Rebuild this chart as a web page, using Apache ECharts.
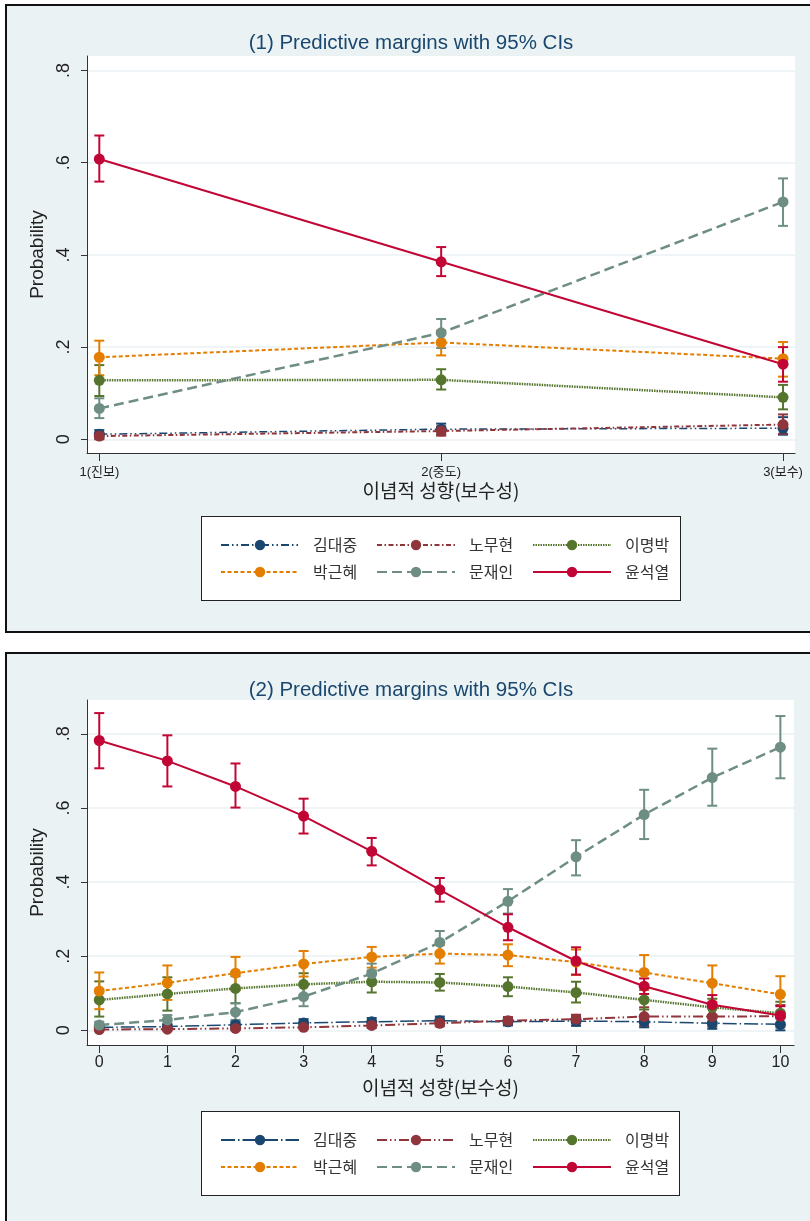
<!DOCTYPE html>
<html>
<head>
<meta charset="utf-8">
<script src="https://cdn.jsdelivr.net/npm/echarts@6/dist/echarts.min.js"></script>
<style>
  body { margin: 0; background: #fff; }
  #wrap { position: relative; width: 810px; height: 1221px; overflow: hidden; }
  .frame { position: absolute; background: #eaf2f3; border: 2px solid #111; box-sizing: border-box; }
  .lgbox { position: absolute; background: #fff; border: 1px solid #222; box-sizing: border-box; }
  #chart { position: absolute; left: 0; top: 0; width: 810px; height: 1221px; }
</style>
</head>
<body>
<div id="wrap">
  <div class="frame" style="left:5px;top:4px;width:830px;height:629px"></div>
  <div class="frame" style="left:5px;top:652px;width:830px;height:600px"></div>
  <div class="lgbox" style="left:201px;top:516px;width:480px;height:85px"></div>
  <div class="lgbox" style="left:201px;top:1111px;width:479px;height:85px"></div>
  <div id="chart"></div>
</div>
<script>
// candidates and colours
const candidates = ['김대중', '노무현', '이명박', '박근혜', '문재인', '윤석열'];
const colors = ['#1a476f', '#90353b', '#55752f', '#e37e00', '#6e8e84', '#c10534'];

const yTicks = [0, 0.2, 0.4, 0.6, 0.8];
const yTickLabels = ['0', '.2', '.4', '.6', '.8'];

// (1) three-category ideology
const xTop = [1, 2, 3];
const xTopLabels = ['1(진보)', '2(중도)', '3(보수)'];
const topKdj = [0.011, 0.022, 0.024];
const topKdjLo = [0.002, 0.010, 0.010];
const topKdjHi = [0.020, 0.034, 0.048];
const topNmh = [0.007, 0.018, 0.032];
const topNmhLo = [0.000, 0.008, 0.012];
const topNmhHi = [0.014, 0.028, 0.054];
const topLmb = [0.128, 0.129, 0.091];
const topLmbLo = [0.094, 0.108, 0.065];
const topLmbHi = [0.161, 0.152, 0.118];
const topPgh = [0.178, 0.210, 0.175];
const topPghLo = [0.139, 0.182, 0.136];
const topPghHi = [0.214, 0.236, 0.211];
const topMji = [0.067, 0.231, 0.515];
const topMjiLo = [0.046, 0.198, 0.463];
const topMjiHi = [0.089, 0.261, 0.566];
const topYsy = [0.608, 0.385, 0.163];
const topYsyLo = [0.559, 0.354, 0.125];
const topYsyHi = [0.659, 0.417, 0.200];

// (2) 0-10 ideology scale
const xBottom = [0, 1, 2, 3, 4, 5, 6, 7, 8, 9, 10];
const botKdj = [0.008, 0.010, 0.015, 0.020, 0.023, 0.026, 0.023, 0.025, 0.023, 0.019, 0.016];
const botKdjLo = [0.002, 0.003, 0.006, 0.010, 0.013, 0.015, 0.013, 0.012, 0.008, 0.004, 0.000];
const botKdjHi = [0.014, 0.017, 0.024, 0.030, 0.033, 0.037, 0.033, 0.038, 0.038, 0.034, 0.032];
const botNmh = [0.002, 0.003, 0.005, 0.008, 0.013, 0.019, 0.026, 0.030, 0.037, 0.037, 0.038];
const botNmhLo = [0.000, 0.000, 0.001, 0.003, 0.006, 0.011, 0.016, 0.018, 0.012, 0.010, 0.008];
const botNmhHi = [0.005, 0.007, 0.010, 0.014, 0.020, 0.027, 0.036, 0.042, 0.062, 0.064, 0.068];
const botLmb = [0.082, 0.098, 0.113, 0.124, 0.131, 0.129, 0.118, 0.102, 0.082, 0.062, 0.046];
const botLmbLo = [0.037, 0.053, 0.073, 0.095, 0.102, 0.107, 0.092, 0.075, 0.056, 0.040, 0.016];
const botLmbHi = [0.132, 0.143, 0.146, 0.154, 0.161, 0.152, 0.143, 0.131, 0.109, 0.085, 0.077];
const botPgh = [0.106, 0.128, 0.154, 0.179, 0.198, 0.207, 0.203, 0.184, 0.156, 0.127, 0.097];
const botPghLo = [0.057, 0.082, 0.109, 0.145, 0.169, 0.180, 0.173, 0.150, 0.110, 0.077, 0.047];
const botPghHi = [0.156, 0.175, 0.198, 0.214, 0.225, 0.230, 0.232, 0.218, 0.203, 0.175, 0.146];
const botMji = [0.014, 0.028, 0.049, 0.091, 0.153, 0.237, 0.348, 0.468, 0.582, 0.682, 0.764];
const botMjiLo = [0.005, 0.015, 0.028, 0.065, 0.124, 0.206, 0.315, 0.418, 0.516, 0.606, 0.680];
const botMjiHi = [0.023, 0.041, 0.073, 0.119, 0.180, 0.268, 0.381, 0.513, 0.649, 0.760, 0.848];
const botYsy = [0.782, 0.727, 0.658, 0.578, 0.483, 0.379, 0.278, 0.187, 0.119, 0.069, 0.040];
const botYsyLo = [0.707, 0.658, 0.601, 0.531, 0.445, 0.347, 0.243, 0.150, 0.098, 0.041, 0.014];
const botYsyHi = [0.856, 0.796, 0.720, 0.625, 0.519, 0.411, 0.313, 0.224, 0.140, 0.095, 0.065];

const FONT = "'Liberation Sans', 'Noto Sans CJK KR', sans-serif";
const KFONT = "'Noto Sans CJK KR', 'Liberation Sans', sans-serif";

// line patterns per panel
const topDash = [[8, 3, 1.5, 3, 1.5, 3], [5, 2.5, 1.5, 2.5], [1.5, 1], [4, 2.5], [10, 5], 'solid'];
const botDash = [[14, 3, 1.5, 3], [10, 3, 1.5, 3, 1.5, 3], [1.5, 1], [4, 2.5], [10, 5], 'solid'];
const widths = [1.5, 2, 2.5, 2, 2.5, 2];

const panels = [
  { x: xTop, dash: topDash, suffix: '',
    vals: [topKdj, topNmh, topLmb, topPgh, topMji, topYsy],
    lo: [topKdjLo, topNmhLo, topLmbLo, topPghLo, topMjiLo, topYsyLo],
    hi: [topKdjHi, topNmhHi, topLmbHi, topPghHi, topMjiHi, topYsyHi] },
  { x: xBottom, dash: botDash, suffix: '#2',
    vals: [botKdj, botNmh, botLmb, botPgh, botMji, botYsy],
    lo: [botKdjLo, botNmhLo, botLmbLo, botPghLo, botMjiLo, botYsyLo],
    hi: [botKdjHi, botNmhHi, botLmbHi, botPghHi, botMjiHi, botYsyHi] }
];

function renderBar(params, api) {
  const x = api.value(0);
  const lo = api.coord([x, api.value(1)]);
  const hi = api.coord([x, api.value(2)]);
  const w = 5;
  const style = { stroke: api.visual('color'), lineWidth: 2 };
  return {
    type: 'group',
    children: [
      { type: 'line', shape: { x1: lo[0], y1: lo[1], x2: hi[0], y2: hi[1] }, style: style },
      { type: 'line', shape: { x1: lo[0] - w, y1: lo[1], x2: lo[0] + w, y2: lo[1] }, style: style },
      { type: 'line', shape: { x1: hi[0] - w, y1: hi[1], x2: hi[0] + w, y2: hi[1] }, style: style }
    ]
  };
}

const series = [];
panels.forEach((p, g) => {
  candidates.forEach((c, i) => {
    series.push({
      type: 'custom',
      name: 'ci' + g + i,
      xAxisIndex: g, yAxisIndex: g,
      renderItem: renderBar,
      itemStyle: { color: colors[i] },
      encode: { x: 0, y: [1, 2] },
      data: p.x.map((x, j) => [x, p.lo[i][j], p.hi[i][j]]),
      z: 2, silent: true
    });
  });
  candidates.forEach((c, i) => {
    series.push({
      type: 'line',
      name: c + p.suffix,
      xAxisIndex: g, yAxisIndex: g,
      data: p.x.map((x, j) => [x, p.vals[i][j]]),
      symbol: 'circle', symbolSize: 11, showSymbol: true,
      lineStyle: { color: colors[i], width: widths[i], type: p.dash[i] },
      itemStyle: { color: colors[i] },
      z: 3, silent: true
    });
  });
});

function yAxisFor(g, min, max) {
  return {
    type: 'value', gridIndex: g, min: min, max: max,
    name: 'Probability', nameLocation: 'middle', nameGap: 33,
    nameTextStyle: { fontSize: 19, color: '#222', fontFamily: FONT },
    axisLine: { show: true, onZero: false, lineStyle: { color: '#333' } },
    axisTick: { show: true, length: 6, customValues: yTicks, lineStyle: { color: '#333' } },
    axisLabel: {
      customValues: yTicks, rotate: 90, margin: 14, fontSize: 18, color: '#222', fontFamily: FONT,
      formatter: v => yTickLabels[yTicks.findIndex(t => Math.abs(t - v) < 1e-6)]
    },
    splitLine: { show: true, lineStyle: { color: '#eaf2f3', width: 1.5 } }
  };
}

function legendFor(names, top) {
  return {
    data: names, left: 220, top: top, orient: 'horizontal', padding: 0,
    itemWidth: 78, itemHeight: 13, itemGap: 11, selectedMode: false,
    formatter: n => n.split('#')[0],
    textStyle: { fontSize: 16, color: '#333', fontFamily: KFONT, width: 52, padding: [0, 0, 0, 9], lineHeight: 20 }
  };
}

const chart = echarts.init(document.getElementById('chart'));
chart.setOption({
  animation: false,
  backgroundColor: 'transparent',
  title: [
    { text: '(1) Predictive margins with 95% CIs', left: 411, top: 33, textAlign: 'center', padding: 0,
      textStyle: { color: '#1a476f', fontSize: 20.5, fontWeight: 'normal', fontFamily: FONT } },
    { text: '(2) Predictive margins with 95% CIs', left: 411, top: 680, textAlign: 'center', padding: 0,
      textStyle: { color: '#1a476f', fontSize: 20.5, fontWeight: 'normal', fontFamily: FONT } }
  ],
  grid: [
    { left: 87, top: 56, width: 708, height: 397, show: true, backgroundColor: '#fff', borderWidth: 0, outerBoundsMode: 'none' },
    { left: 87, top: 700, width: 707, height: 345, show: true, backgroundColor: '#fff', borderWidth: 0, outerBoundsMode: 'none' }
  ],
  xAxis: [
    { type: 'value', gridIndex: 0, min: 0.964, max: 3.035,
      name: '이념적 성향(보수성)', nameLocation: 'middle', nameGap: 28,
      nameTextStyle: { fontSize: 19, color: '#222', fontFamily: KFONT },
      axisLine: { show: true, onZero: false, lineStyle: { color: '#333' } },
      axisTick: { show: true, length: 8, customValues: xTop, lineStyle: { color: '#333' } },
      axisLabel: { customValues: xTop, margin: 13, fontSize: 13, color: '#222', fontFamily: FONT,
        formatter: v => xTopLabels[xTop.indexOf(Math.round(v))] },
      splitLine: { show: false } },
    { type: 'value', gridIndex: 1, min: -0.18, max: 10.2,
      name: '이념적 성향(보수성)', nameLocation: 'middle', nameGap: 33,
      nameTextStyle: { fontSize: 19, color: '#222', fontFamily: KFONT },
      axisLine: { show: true, onZero: false, lineStyle: { color: '#333' } },
      axisTick: { show: true, length: 8, customValues: xBottom, lineStyle: { color: '#333' } },
      axisLabel: { customValues: xBottom, margin: 10, fontSize: 16, color: '#222', fontFamily: FONT },
      splitLine: { show: false } }
  ],
  yAxis: [yAxisFor(0, -0.0297, 0.8315), yAxisFor(1, -0.0397, 0.8913)],
  legend: [
    legendFor(candidates.slice(0, 3), 535),
    legendFor(candidates.slice(3), 562),
    legendFor(candidates.slice(0, 3).map(c => c + '#2'), 1130),
    legendFor(candidates.slice(3).map(c => c + '#2'), 1157)
  ],
  series: series
});
window.addEventListener('resize', () => chart.resize());
</script>
</body>
</html>
